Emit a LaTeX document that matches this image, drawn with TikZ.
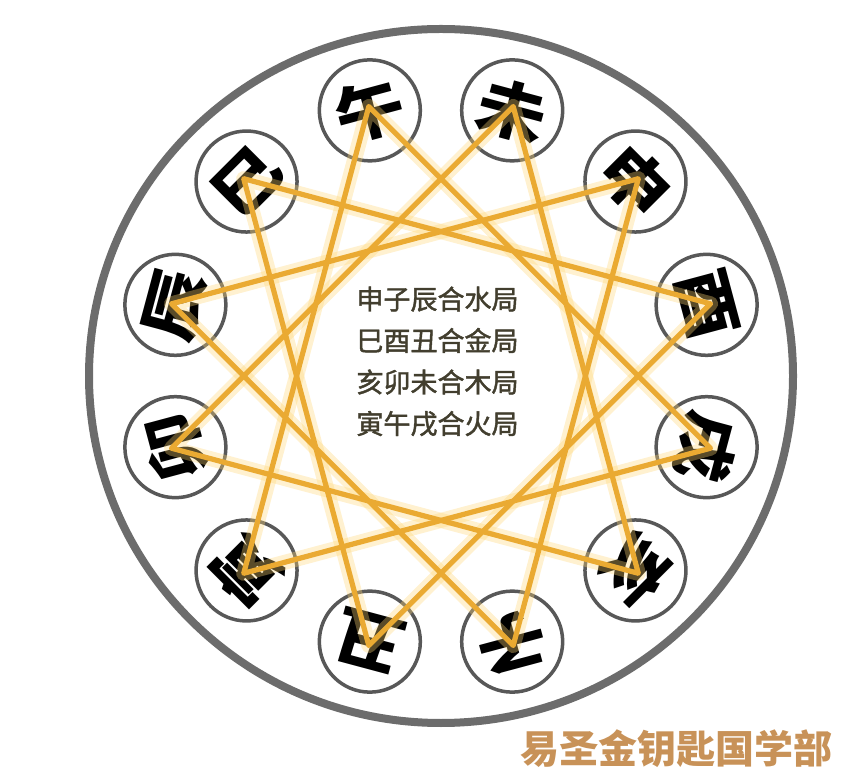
\documentclass[tikz,border=0pt]{standalone}
\usepackage{fontspec}
\newfontfamily\cjk{Noto Sans CJK SC}
\newfontfamily\cjkm{Noto Sans CJK SC}[FakeBold=1.6]
\usetikzlibrary{calc}
\definecolor{ringgray}{RGB}{108,108,108}
\definecolor{cgray}{RGB}{88,88,88}
\definecolor{gold}{RGB}{234,170,50}
\definecolor{glowc}{RGB}{255,215,120}
\definecolor{txt}{RGB}{66,62,46}
\definecolor{wm}{RGB}{200,146,88}
\begin{document}
\begin{tikzpicture}[x=1pt,y=1pt,
  zcirc/.style={circle,draw=cgray,line width=3.5pt,minimum size=101pt,inner sep=0pt},
  zchar/.style={font=\cjk\bfseries\fontsize{62}{62}\selectfont,inner sep=0pt},
  link/.style={gold,line width=5.2pt,line cap=round,line join=round},
  halo/.style={glowc,line width=15pt,opacity=0.35,line cap=round,line join=round},
  centertext/.style={font=\cjkm\fontsize{27}{41.5}\selectfont,text=txt,align=center,inner sep=0pt},
  wmarktext/.style={font=\cjk\bfseries\fontsize{39}{39}\selectfont,text=wm,inner sep=0pt}]
\useasboundingbox (0,0) rectangle (842,768);
\coordinate (C) at (441,392);
\draw[ringgray,line width=8pt] (C) ellipse [x radius=352, y radius=347];
\foreach \n/\a/\c in {wu/105/午, wei/75/未, shen/45/申, you/15/酉, xu/-15/戌, hai/-45/亥, zi/-75/子, chou/-105/丑, yin/-135/寅, mao/-165/卯, chen/165/辰, si/135/巳}{
  \node[zcirc] (\n) at ($(C)+(\a:275)$) {};
  \node[zchar,rotate=\a-90,xscale=1.12] (t\n) at (\n) {\c};
  \coordinate (v\n) at ($(C)+(\a:279)$);
}
\foreach \p/\q/\r in {shen/zi/chen, si/you/chou, hai/mao/wei, yin/wu/xu}{
  \draw[halo] (v\p) -- (v\q) -- (v\r) -- cycle;
}
\foreach \p/\q/\r in {shen/zi/chen, si/you/chou, hai/mao/wei, yin/wu/xu}{
  \draw[link] (v\p) -- (v\q) -- (v\r) -- cycle;
}
\node[centertext] (info) at (437.5,406.5) {申子辰合水局\\巳酉丑合金局\\亥卯未合木局\\寅午戌合火局};
\node[wmarktext] (wmark) at (676.5,19) {易圣金钥匙国学部};
\end{tikzpicture}
\end{document}
